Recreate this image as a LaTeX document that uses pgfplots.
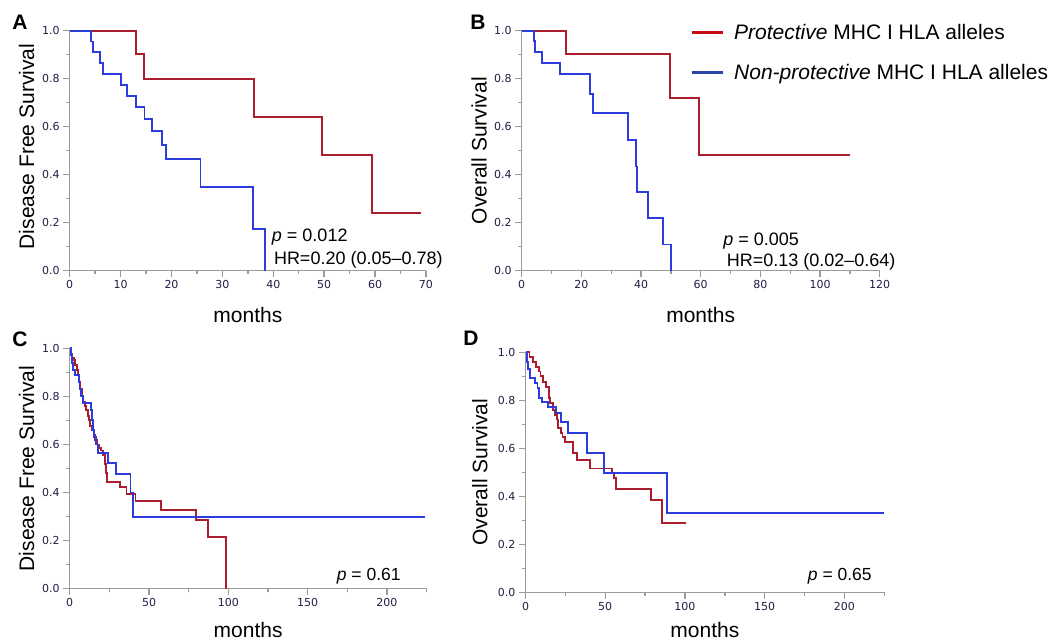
\documentclass[border=0pt]{standalone}
\usepackage{fontspec}
\setmainfont{Liberation Sans}
\newfontfamily\tickfont{DejaVu Sans}
\usepackage{pgfplots}
\pgfplotsset{compat=1.18}

\definecolor{kmred}{RGB}{170,30,45}
\definecolor{kmblue}{RGB}{45,60,220}
\definecolor{legred}{RGB}{200,10,20}
\definecolor{legblue}{RGB}{40,70,170}
\definecolor{axgray}{RGB}{155,155,155}
\definecolor{tickcol}{RGB}{30,30,70}

\tikzset{pnote/.style={anchor=base west, inner sep=0pt, font=\fontsize{18}{20}\selectfont}}

\pgfplotsset{
  km/.style={
    scale only axis, clip=false,
    axis lines=left, axis line style={-, draw=axgray, line width=1.4pt},
    xmin=0, ymin=0, ymax=1,
    tick align=outside, major tick length=6.5pt, minor tick length=3.5pt,
    major tick style={draw=axgray, line width=1.4pt},
    minor tick style={draw=axgray, line width=1.4pt},
    ytick={0,0.2,0.4,0.6,0.8,1}, minor y tick num=1,
    /pgf/number format/assume math mode=true,
    yticklabel style={/pgf/number format/fixed, /pgf/number format/fixed zerofill, /pgf/number format/precision=1},
    tick label style={font=\tickfont\fontsize{11}{13}\selectfont, text=tickcol},
    label style={font=\fontsize{21}{24}\selectfont},
    xlabel style={anchor=center},
    ylabel style={anchor=center},
    xlabel={months},
  },
  red km/.style={kmred, line width=1.9pt, const plot mark left, forget plot},
  blue km/.style={kmblue, line width=1.9pt, const plot mark left, forget plot},
  % long tick stubs at the labelled values (6.5pt outside the axis)
  tickstub/.style={axgray, line width=1.4pt, no marks, forget plot},
}

\begin{document}
\begin{tikzpicture}
\useasboundingbox (0,0) rectangle (1050pt,642pt);

% A
\begin{axis}[km, at={(69.7pt,371.3pt)}, anchor=south west,
  width=356.3pt, height=240pt, xmax=70,
  xtick={0,10,...,70}, minor x tick num=1,
  ylabel={Disease Free Survival},
  xlabel style={at={(axis description cs:0.5,-0.183)}},
  ylabel style={at={(axis description cs:-0.1207,0.517)}}]
\addplot[tickstub, xcomb] coordinates {(-1.28,0) (-1.28,0.2) (-1.28,0.4) (-1.28,0.6) (-1.28,0.8) (-1.28,1)};
\addplot[tickstub, ycomb] coordinates {(0,-0.027) (10,-0.027) (20,-0.027) (30,-0.027) (40,-0.027) (50,-0.027) (60,-0.027) (70,-0.027)};
\addplot[red km] coordinates {(0,1) (13.0,0.903) (14.6,0.80) (36.2,0.639) (49.6,0.481) (59.4,0.239) (69,0.239)};
\addplot[blue km] coordinates {(0,1) (4.2,0.955) (4.6,0.91) (6.0,0.865) (6.6,0.82) (10.0,0.772) (11.3,0.727) (13.0,0.681) (14.7,0.632) (16.1,0.582) (18.2,0.522) (18.9,0.464) (25.7,0.347) (36.1,0.172) (38.4,0)};
\node[pnote] at (axis cs:39.7,0.121) {\textit{p} = 0.012};
\node[pnote] at (axis cs:40.1,0.024) {HR=0.20 (0.05\textendash0.78)};
\end{axis}

% B
\begin{axis}[km, at={(521.7pt,371.3pt)}, anchor=south west,
  width=358pt, height=240pt, xmax=120,
  xtick={0,20,...,120}, minor x tick num=1,
  ylabel={Overall Survival},
  xlabel style={at={(axis description cs:0.5,-0.183)}},
  ylabel style={at={(axis description cs:-0.119,0.5)}},
  legend cell align=left,
  legend style={draw=none, fill=none, inner sep=0pt, row sep=23pt, column sep=10pt,
    at={(axis description cs:0.470,1.028)}, anchor=north west,
    font=\fontsize{21}{24}\selectfont, nodes={inner sep=0pt}},
  legend image code/.code={\draw[#1] (0pt,0pt) -- (31pt,0pt);}]
\addplot[tickstub, xcomb] coordinates {(-2.18,0) (-2.18,0.2) (-2.18,0.4) (-2.18,0.6) (-2.18,0.8) (-2.18,1)};
\addplot[tickstub, ycomb] coordinates {(0,-0.027) (20,-0.027) (40,-0.027) (60,-0.027) (80,-0.027) (100,-0.027) (120,-0.027)};
\addplot[red km] coordinates {(0,1) (14.7,0.903) (49.6,0.718) (59.3,0.481) (110,0.481)};
\addplot[blue km] coordinates {(0,1) (4.2,0.956) (4.6,0.91) (6.9,0.864) (12.9,0.818) (23.0,0.736) (24.0,0.656) (35.7,0.544) (38.2,0.434) (38.7,0.327) (42.2,0.218) (47.3,0.109) (50.0,0)};
\addlegendimage{legred, line width=3pt}
\addlegendentry{\textit{Protective} MHC I HLA alleles}
\addlegendimage{legblue, line width=3pt}
\addlegendentry{\textit{Non-protective} MHC I HLA alleles}
\node[pnote] at (axis cs:67.5,0.107) {\textit{p} = 0.005};
\node[pnote] at (axis cs:68.7,0.017) {HR=0.13 (0.02\textendash0.64)};
\end{axis}

% C
\begin{axis}[km, at={(69.7pt,53.3pt)}, anchor=south west,
  width=356.9pt, height=240.4pt, xmax=225,
  xtick={0,50,...,200}, minor xtick={25,75,...,225},
  ylabel={Disease Free Survival},
  xlabel style={at={(axis description cs:0.5,-0.172)}},
  ylabel style={at={(axis description cs:-0.1205,0.5)}}]
\addplot[tickstub, xcomb] coordinates {(-4.1,0) (-4.1,0.2) (-4.1,0.4) (-4.1,0.6) (-4.1,0.8) (-4.1,1)};
\addplot[tickstub, ycomb] coordinates {(0,-0.027) (50,-0.027) (100,-0.027) (150,-0.027) (200,-0.027)};
\addplot[red km] coordinates {(0,1) (0.8,0.975) (1.5,0.96) (2.5,0.95) (3.5,0.93) (4.5,0.91) (5.5,0.89) (6.2,0.86) (6.8,0.83) (7.5,0.80) (8.3,0.775) (9.5,0.76) (10.5,0.745) (11.3,0.72) (12,0.70) (13,0.675) (14,0.66) (15,0.64) (16,0.62) (17,0.60) (18.5,0.585) (20,0.575) (21,0.555) (22,0.52) (22.8,0.48) (23.7,0.445) (31.5,0.422) (35.8,0.395) (41.5,0.363) (57.5,0.327) (79.6,0.286) (87,0.214) (98.5,0)};
\addplot[blue km] coordinates {(0,1) (0.8,0.97) (1.5,0.94) (2.2,0.91) (3.1,0.889) (5.6,0.86) (6.2,0.83) (7.0,0.80) (8.6,0.771) (13.6,0.743) (14.2,0.70) (14.8,0.66) (15.5,0.63) (16.3,0.60) (17.8,0.563) (24.2,0.524) (29.2,0.478) (38.3,0.40) (39.8,0.297) (224,0.297)};
\node[pnote, font=\fontsize{17.5}{20}\selectfont] at (axis cs:168.3,0.033) {\textit{p} = 0.61};
\end{axis}

% D
\begin{axis}[km, at={(525.5pt,49.7pt)}, anchor=south west,
  width=358.8pt, height=240pt, xmax=225,
  xtick={0,50,...,200}, minor xtick={25,75,...,225},
  ylabel={Overall Survival},
  xlabel style={at={(axis description cs:0.5,-0.157)}},
  ylabel style={at={(axis description cs:-0.127,0.5)}}]
\addplot[tickstub, xcomb] coordinates {(-4.08,0) (-4.08,0.2) (-4.08,0.4) (-4.08,0.6) (-4.08,0.8) (-4.08,1)};
\addplot[tickstub, ycomb] coordinates {(0,-0.027) (50,-0.027) (100,-0.027) (150,-0.027) (200,-0.027)};
\addplot[red km] coordinates {(0,1) (2.5,0.982) (4.8,0.961) (6.4,0.94) (8.3,0.92) (9.4,0.90) (11.0,0.876) (12.9,0.857) (14.7,0.81) (15.6,0.79) (17.5,0.76) (18.6,0.74) (19.8,0.72) (20.5,0.683) (22.1,0.665) (23.2,0.648) (24.8,0.625) (29.6,0.579) (32.1,0.551) (40.5,0.516) (54.5,0.496) (55.5,0.475) (56.5,0.429) (78.5,0.385) (85.4,0.287) (100.7,0.287)};
\addplot[blue km] coordinates {(0,1) (1.0,0.96) (1.8,0.93) (2.6,0.892) (5.7,0.871) (7.5,0.85) (8.3,0.808) (10.5,0.792) (14.1,0.773) (19.3,0.746) (22.5,0.711) (26.9,0.662) (38.8,0.579) (49.2,0.498) (88.5,0.332) (224.5,0.332)};
\node[pnote, font=\fontsize{17.5}{20}\selectfont] at (axis cs:177,0.048) {\textit{p} = 0.65};
\end{axis}

\node[font=\bfseries\fontsize{21}{24}\selectfont] at (20pt,620pt) {A};
\node[font=\bfseries\fontsize{21}{24}\selectfont] at (478pt,620pt) {B};
\node[font=\bfseries\fontsize{21}{24}\selectfont] at (20pt,303pt) {C};
\node[font=\bfseries\fontsize{21}{24}\selectfont] at (471pt,304pt) {D};
\end{tikzpicture}
\end{document}
